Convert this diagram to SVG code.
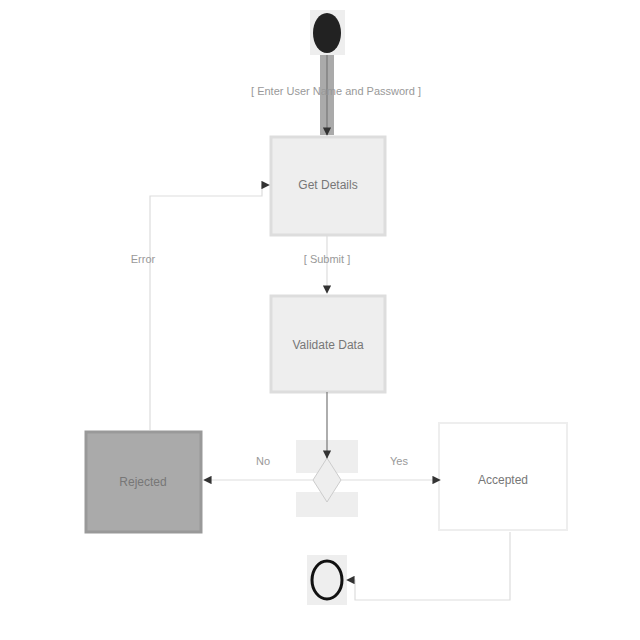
<svg xmlns="http://www.w3.org/2000/svg" width="640" height="640" viewBox="0 0 640 640">
<style>
.st{fill:#eeeeee;stroke:#dddddd;stroke-width:3}
.lbl{font-family:"Liberation Sans",Arial,sans-serif;font-size:11px;fill:#999;text-anchor:middle}
.nt{font-family:"Liberation Sans",Arial,sans-serif;font-size:12px;fill:#777;text-anchor:middle}
.c{fill:none;stroke:#dddddd;stroke-width:1.2}
.cd{fill:none;stroke:#777;stroke-width:1.2}
</style>
<defs>
<marker id="ah" viewBox="0 0 10 10" refX="9" refY="5" markerWidth="7" markerHeight="7" orient="auto">
<path d="M0,0 L10,5 L0,10 z" fill="#333"/>
</marker>
</defs>
<rect width="640" height="640" fill="#fff"/>
<g id="start">
<rect x="310" y="10" width="35" height="45" fill="#eeeeee"/>
<ellipse cx="327" cy="33" rx="14" ry="20" fill="#222"/>
</g>
<g id="get-details">
<rect class="st" x="271" y="137" width="114" height="98"/>
<text class="nt" x="328" y="189">Get Details</text>
</g>
<g id="validate-data">
<rect class="st" x="271" y="296" width="114" height="96"/>
<text class="nt" x="328" y="349">Validate Data</text>
</g>
<g id="decision">
<rect x="296" y="440" width="62" height="77" fill="#eeeeee"/>
<rect x="296" y="473" width="62" height="19" fill="#ffffff"/>
<path d="M327,458 L341,480 L327,502 L313,480 z" fill="#eeeeee" stroke="#cccccc"/>
</g>
<g id="rejected">
<rect x="86" y="432" width="115" height="100" fill="#aaaaaa" stroke="#999999" stroke-width="3"/>
<text class="nt" x="143" y="486" fill="#555">Rejected</text>
</g>
<g id="accepted">
<rect x="439" y="423" width="128" height="107" fill="#ffffff" stroke="#eeeeee" stroke-width="2"/>
<text class="nt" x="503" y="484" fill="#bbb">Accepted</text>
</g>
<g id="final">
<rect x="307" y="555" width="40" height="50" fill="#eeeeee"/>
<ellipse cx="327" cy="580" rx="15" ry="19" fill="#eeeeee" stroke="#111" stroke-width="3"/>
</g>
<g id="connectors">
<rect x="320" y="55" width="14" height="80" fill="#aaaaaa"/>
<path class="cd" d="M327,55 V135" stroke="#555" marker-end="url(#ah)"/>
<text class="lbl" x="336" y="95">[ Enter User Name and Password ]</text>
<path class="c" d="M327,235 V293" stroke="#bbb" marker-end="url(#ah)"/>
<text class="lbl" x="327" y="263">[ Submit ]</text>
<path class="c" d="M150,430 V196 H262 V185 H269" marker-end="url(#ah)"/>
<text class="lbl" x="143" y="263">Error</text>
<path class="cd" d="M327,392 V458" marker-end="url(#ah)"/>
<path class="c" d="M313,480 H204" marker-end="url(#ah)"/>
<text class="lbl" x="263" y="465">No</text>
<path class="c" d="M341,480 H440" marker-end="url(#ah)"/>
<text class="lbl" x="399" y="465">Yes</text>
<path class="c" d="M510,532 V600 H355 V580 H347" marker-end="url(#ah)"/>
</g>
</svg>
